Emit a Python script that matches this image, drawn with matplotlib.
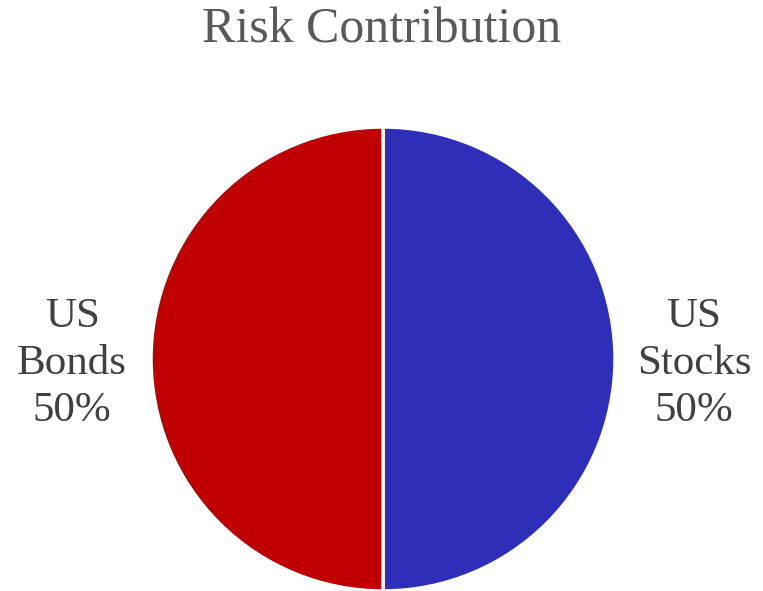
import matplotlib
matplotlib.use("Agg")
import matplotlib.pyplot as plt

categories = ["US\nStocks", "US\nBonds"]
risk_share = [50, 50]
colors = ["#2E2EB8", "#C00000"]
title = "Risk Contribution"

plt.rcParams["font.family"] = ["Liberation Serif", "DejaVu Serif"]

fig = plt.figure(figsize=(7.63, 5.91), dpi=100)
# axes placed so the pie circle sits centred under the title
r_px = 232
cx, cy = 383, 591 - 359
ax = fig.add_axes([(cx - r_px) / 763, (cy - r_px) / 591, 2 * r_px / 763, 2 * r_px / 591])

labels = [f"{c}\n{v}%" for c, v in zip(categories, risk_share)]
wedges, texts = ax.pie(
    risk_share,
    labels=labels,
    colors=colors,
    startangle=90,
    counterclock=False,
    labeldistance=1.34,
    radius=1.0,
    wedgeprops=dict(edgecolor="white", linewidth=2.5),
    textprops=dict(fontsize=31, color="#404040", linespacing=1.28),
)
for t in texts:
    t.set_ha("center")
    t.set_va("center")
    x, y = t.get_position()
    t.set_position((x, y - 5 / r_px))
ax.set_xlim(-1, 1)
ax.set_ylim(-1, 1)
ax.set_aspect("equal")

fig.text(0.5, 1 - 30 / 591, title, ha="center", va="center", fontsize=36, color="#595959")

fig.savefig("out.png", dpi=100)
